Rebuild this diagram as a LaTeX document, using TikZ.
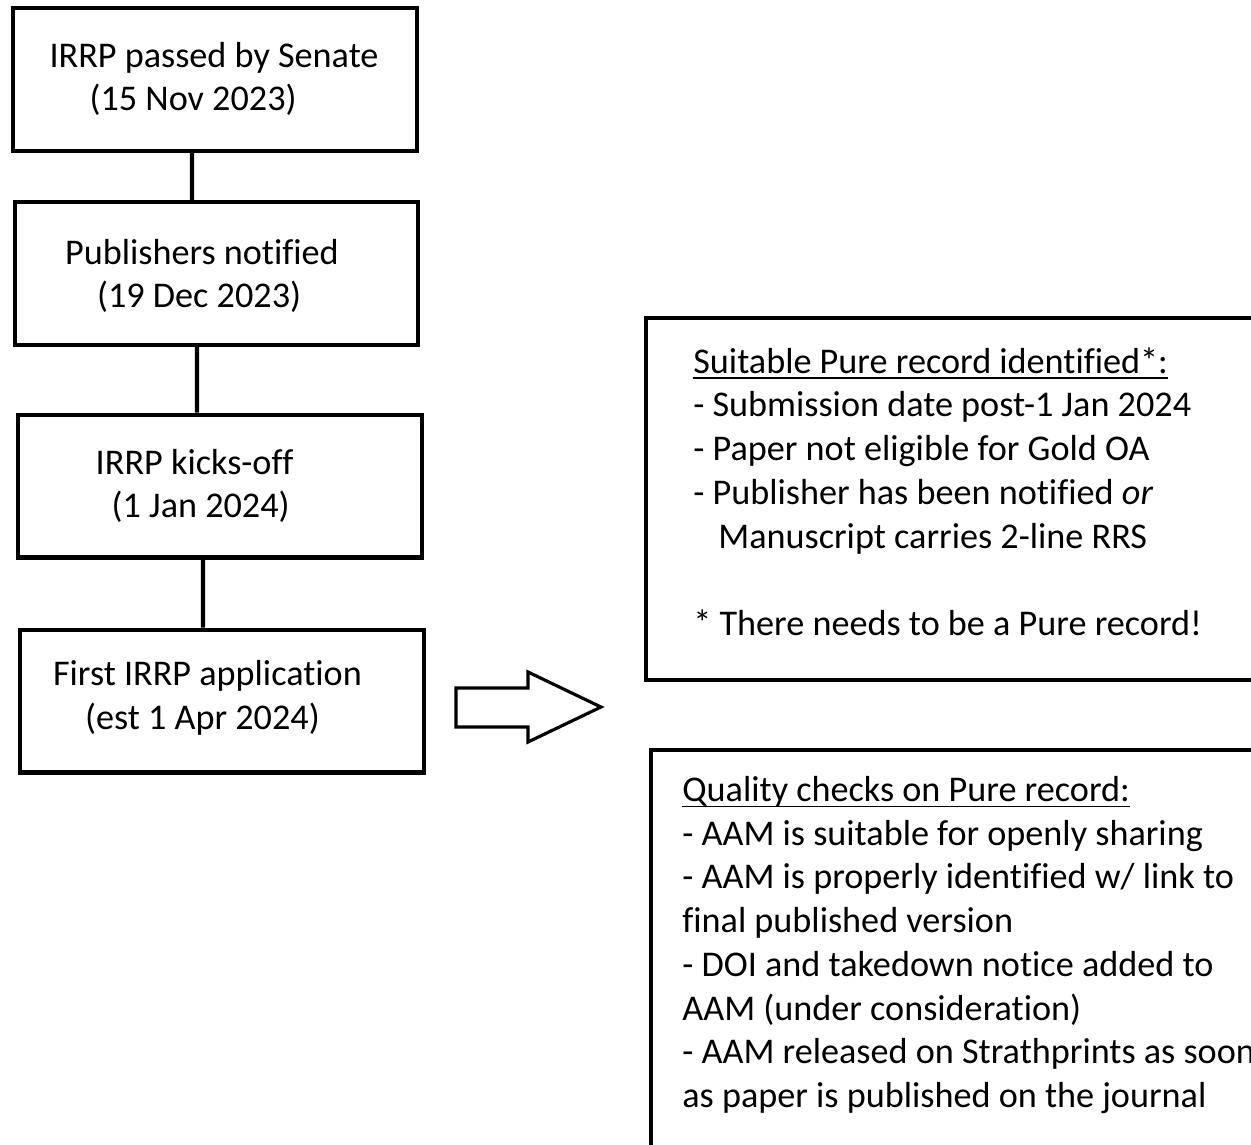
\documentclass[tikz,border=0pt]{standalone}
\usepackage{amsmath}
\usepackage{fontspec}
\setmainfont{Carlito}[Ligatures=NoCommon]
\usetikzlibrary{shapes}

\tikzset{
	stage/.style={draw=black, line width=2.3pt, minimum width=8.08cm, minimum height=2.86cm, inner sep=0pt},
	note/.style={draw=black, line width=2.3pt, inner sep=0pt},
	txt/.style={align=left, inner sep=0pt, font=\fontsize{20.6}{24.9}\selectfont},
	link/.style={line width=2.3pt},
}

\begin{document}
\begin{tikzpicture}[x=0.02cm, y=-0.02cm]
		\clip (0, 0) rectangle (1251, 1144);
		\node[stage] (senate) at (215, 79.5) {};
		\node[stage] (notified) at (216.5, 273.5) {};
		\node[stage] (kickoff) at (220, 486) {};
		\node[stage] (first) at (222, 701) {};
		\node[txt] at (214, 79) {IRRP passed by Senate\\\hspace*{22.8pt}(15 Nov 2023)};
		\node[txt] at (202, 276) {Publishers notified\\\hspace*{18.2pt}(19 Dec 2023)};
		\node[txt] at (194.5, 486) {IRRP kicks-off\\\hspace*{9.1pt}(1 Jan 2024)};
		\node[txt] at (207.5, 698) {First IRRP application\\\hspace*{18.2pt}(est 1 Apr 2024)};
		\draw[link] ([xshift=-0.46cm]senate.south) -- ([xshift=-0.49cm]notified.north);
		\draw[link] ([xshift=-0.39cm]notified.south) -- ([xshift=-0.46cm]kickoff.north);
		\draw[link] ([xshift=-0.34cm]kickoff.south) -- ([xshift=-0.38cm]first.north);
		% block arrow
		\draw[line width=1.8pt, line join=miter] (456, 688) -- (528, 688) -- (528, 672) -- (601, 707)
			-- (528, 742) -- (528, 727) -- (456, 727) -- cycle;
		\node[note, minimum width=13.08cm, minimum height=7.24cm] (record) at (973, 499) {};
		\node[note, minimum width=12.98cm, minimum height=9cm] (checks) at (975.5, 975) {};
		\node[txt, anchor=north west] at (693, 347) {\underline{\smash[b]{Suitable Pure record identified*:}}\\
			- Submission date post-1 Jan 2024\\
			- Paper not eligible for Gold OA\\
			- Publisher has been notified \textit{or}\\
			\hspace*{0.5cm}Manuscript carries 2-line RRS\\[24.9pt]
			* There needs to be a Pure record!};
		\node[txt, anchor=north west] at (682, 776) {\underline{\smash[b]{Quality checks on Pure record:}}\\
			- AAM is suitable for openly sharing\\
			- AAM is properly identified w/ link to\\
			final published version\\
			- DOI and takedown notice added to\\
			AAM (under consideration)\\
			- AAM released on Strathprints as soon\\
			as paper is published on the journal};
	\end{tikzpicture}
\end{document}
